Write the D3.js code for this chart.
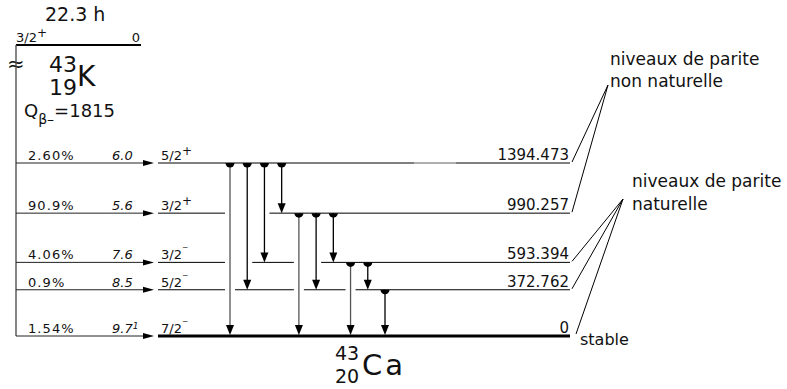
<!DOCTYPE html>
<html>
<head>
<meta charset="utf-8">
<script src="https://cdn.jsdelivr.net/npm/d3@7"></script>
<style>
  body { margin: 0; background: #fff; }
  text { font-family: "DejaVu Sans", sans-serif; fill: #111; }
</style>
</head>
<body>
<div id="chart"></div>
<script>
// --------------------------------------
//  Data
// --------------------------------------

const energies = [1394.473, 990.257, 593.394, 372.762, 0];
const energyLabels = ["1394.473", "990.257", "593.394", "372.762", "0"];
const spins = ["5/2", "3/2", "3/2", "5/2", "7/2"];
const parities = ["+", "+", "\u207B", "\u207B", "\u207B"];
const betaFeed = ["2.60%", "90.9%", "4.06%", "0.9%", "1.54%"];
const logft = ["6.0", "5.6", "7.6", "8.5", "9.7"];
const logftNote = ["", "", "", "", "1"];

// gamma transitions, from level -> to level (keV)
const gammaFrom = [1394.473, 1394.473, 1394.473, 1394.473, 990.257, 990.257, 990.257, 593.394, 593.394, 372.762];
const gammaTo   = [0, 372.762, 593.394, 990.257, 0, 372.762, 593.394, 0, 372.762, 0];

const parent = { halfLife: "22.3 h", spin: "3/2", parity: "+", energy: "0", A: "43", Z: "19", sym: "K", q: "1815" };
const daughter = { A: "43", Z: "20", sym: "Ca" };

const groupLines = [["niveaux de parite", "non naturelle"], ["niveaux de parite", "naturelle"]];
const groupMembers = [[1394.473, 990.257], [593.394, 372.762, 0]];

// --------------------------------------
//  Canvas
// --------------------------------------

const width = 787, height = 389;
const svg = d3.select("#chart").append("svg")
  .attr("width", width).attr("height", height);

const y = d3.scaleLinear().domain([0, d3.max(energies)]).range([336, 163]);
const gx = d3.scalePoint().domain(d3.range(gammaFrom.length)).range([230, 385]);

const levelX0 = 158, levelX1 = 570, feedX = 16, parentY = 45;

const levels = energies.map((e, i) => ({
  e, label: energyLabels[i], spin: spins[i], parity: parities[i],
  feed: betaFeed[i], logft: logft[i], note: logftNote[i]
}));
const gammas = gammaFrom.map((f, i) => ({ i, from: f, to: gammaTo[i] }));

// --------------------------------------
//  Parent
// --------------------------------------

svg.append("text").attr("x", 45).attr("y", 21)
  .style("font-size", "19px").text(parent.halfLife);

svg.append("line").attr("x1", feedX).attr("x2", 141)
  .attr("y1", parentY).attr("y2", parentY)
  .attr("stroke", "#000").attr("stroke-width", 2);

const ps = svg.append("text").attr("x", feedX).attr("y", parentY - 3).style("font-size", "13px");
ps.append("tspan").text(parent.spin);
ps.append("tspan").attr("dy", -5).style("font-size", "12px").text(parent.parity);
svg.append("text").attr("x", 140).attr("y", parentY - 3).attr("text-anchor", "end")
  .style("font-size", "13px").text(parent.energy);

svg.append("text").attr("x", 7).attr("y", 71).style("font-size", "21px").text("\u2248");

svg.append("text").attr("x", 49).attr("y", 72).style("font-size", "22px").text(parent.A);
svg.append("text").attr("x", 49).attr("y", 95).style("font-size", "22px").text(parent.Z);
svg.append("text").attr("x", 77).attr("y", 86).style("font-size", "28px").text(parent.sym);

const q = svg.append("text").attr("x", 24).attr("y", 117).style("font-size", "18px");
q.append("tspan").text("Q");
q.append("tspan").attr("dy", 7).style("font-size", "14px").text("\u03B2\u2013");
q.append("tspan").attr("dy", -7).text("=" + parent.q);

// vertical feed line
svg.append("line").attr("x1", feedX).attr("x2", feedX)
  .attr("y1", parentY).attr("y2", y(0))
  .attr("stroke", "#444").attr("stroke-width", 1.3);

// --------------------------------------
//  Beta feeding
// --------------------------------------

const feed = svg.append("g");
feed.selectAll("line").data(levels).join("line")
  .attr("x1", feedX).attr("x2", 146)
  .attr("y1", d => y(d.e)).attr("y2", d => y(d.e))
  .attr("stroke", "#222").attr("stroke-width", 1);
feed.selectAll("path").data(levels).join("path")
  .attr("d", d => `M154,${y(d.e)} L143,${y(d.e) - 3} L143,${y(d.e) + 3} Z`)
  .attr("fill", "#000");
feed.selectAll("text.pct").data(levels).join("text").attr("class", "pct")
  .attr("x", 28).attr("y", d => y(d.e) - 3)
  .style("font-size", "13px").style("letter-spacing", "1.1px").text(d => d.feed);
const lf = feed.selectAll("text.lft").data(levels).join("text").attr("class", "lft")
  .attr("x", 112).attr("y", d => y(d.e) - 3)
  .style("font-size", "13px").style("font-style", "italic");
lf.append("tspan").text(d => d.logft);
lf.append("tspan").attr("dy", -4).style("font-size", "9px").text(d => d.note);

const sp = feed.selectAll("text.spin").data(levels).join("text").attr("class", "spin")
  .attr("x", 161).attr("y", d => y(d.e) - 3).style("font-size", "13px");
sp.append("tspan").text(d => d.spin);
sp.append("tspan").attr("dy", -5).style("font-size", "12px").text(d => d.parity);

// --------------------------------------
//  Levels (with gaps where gammas pass)
// --------------------------------------

function segments(lv) {
  const passing = gammas.filter(g => g.from > lv.e && g.to < lv.e).map(g => g.i);
  const segs = [];
  let start = levelX0, i = 0;
  while (i < passing.length) {
    let j = i;
    while (j + 1 < passing.length && passing[j + 1] === passing[j] + 1) j++;
    segs.push([start, gx(passing[i]) - 5]);
    start = gx(passing[j]) + 5;
    i = j + 1;
  }
  segs.push([start, levelX1]);
  return segs.map(s => ({ lv, x1: s[0], x2: s[1] }));
}

svg.append("g").selectAll("line")
  .data(levels.flatMap(segments)).join("line")
  .attr("x1", d => d.x1).attr("x2", d => d.x2)
  .attr("y1", d => y(d.lv.e)).attr("y2", d => y(d.lv.e))
  .attr("stroke", "#000")
  .attr("stroke-width", d => d.lv.e === 0 ? 3 : 1);

// small faded stretch on top level
svg.append("line").attr("x1", 414).attr("x2", 456)
  .attr("y1", y(energies[0])).attr("y2", y(energies[0]))
  .attr("stroke", "#ddd").attr("stroke-width", 1.2);

svg.append("g").selectAll("text").data(levels).join("text")
  .attr("x", levelX1 - 1).attr("y", d => y(d.e) - 3).attr("text-anchor", "end")
  .style("font-size", "15px").text(d => d.label);

// --------------------------------------
//  Gammas
// --------------------------------------

const gg = svg.append("g");
gg.selectAll("line").data(gammas).join("line")
  .attr("x1", d => gx(d.i)).attr("x2", d => gx(d.i))
  .attr("y1", d => y(d.from)).attr("y2", d => y(d.to) - 8)
  .attr("stroke", d => d.to === 0 && d.from > 400 ? "#555" : "#000")
  .attr("stroke-width", 1.3);
gg.selectAll("path.start").data(gammas).join("path").attr("class", "start")
  .attr("d", d => { const x = gx(d.i), yy = y(d.from);
    return `M${x - 4.5},${yy} A4.5,4.5 0 0 0 ${x + 4.5},${yy} Z`; })
  .attr("fill", "#000");
gg.selectAll("path.head").data(gammas).join("path").attr("class", "head")
  .attr("d", d => { const x = gx(d.i), yy = y(d.to) - (d.to === 0 ? 1 : 0);
    return `M${x},${yy} L${x - 4},${yy - 10} L${x + 4},${yy - 10} Z`; })
  .attr("fill", "#000");

// --------------------------------------
//  Parity group annotations
// --------------------------------------

const tips = [
  { x: 608, y: 85, tx: 610, dy: [-20, 2] },
  { x: 623, y: 199, tx: 632, dy: [-12, 11] }
];
groupMembers.forEach((members, k) => {
  const t = tips[k];
  svg.append("g").selectAll("line").data(members).join("line")
    .attr("x1", e => levelX1 + 2 + (e === 0 ? 4 : 0)).attr("y1", e => y(e) - (e === 0 ? 2 : 1))
    .attr("x2", t.x).attr("y2", t.y)
    .attr("stroke", "#000").attr("stroke-width", 1);
  svg.append("g").selectAll("text").data(groupLines[k]).join("text")
    .attr("x", t.tx).attr("y", (d, i) => t.y + t.dy[i])
    .style("font-size", "17px").text(d => d);
});

svg.append("text").attr("x", 580).attr("y", 345).style("font-size", "16px").text("stable");

// --------------------------------------
//  Daughter
// --------------------------------------

svg.append("text").attr("x", 335).attr("y", 360).style("font-size", "19px").text(daughter.A);
svg.append("text").attr("x", 335).attr("y", 383).style("font-size", "19px").text(daughter.Z);
svg.append("text").attr("x", 362).attr("y", 375).style("font-size", "29px")
  .style("letter-spacing", "3px").text(daughter.sym);
</script>
</body>
</html>
